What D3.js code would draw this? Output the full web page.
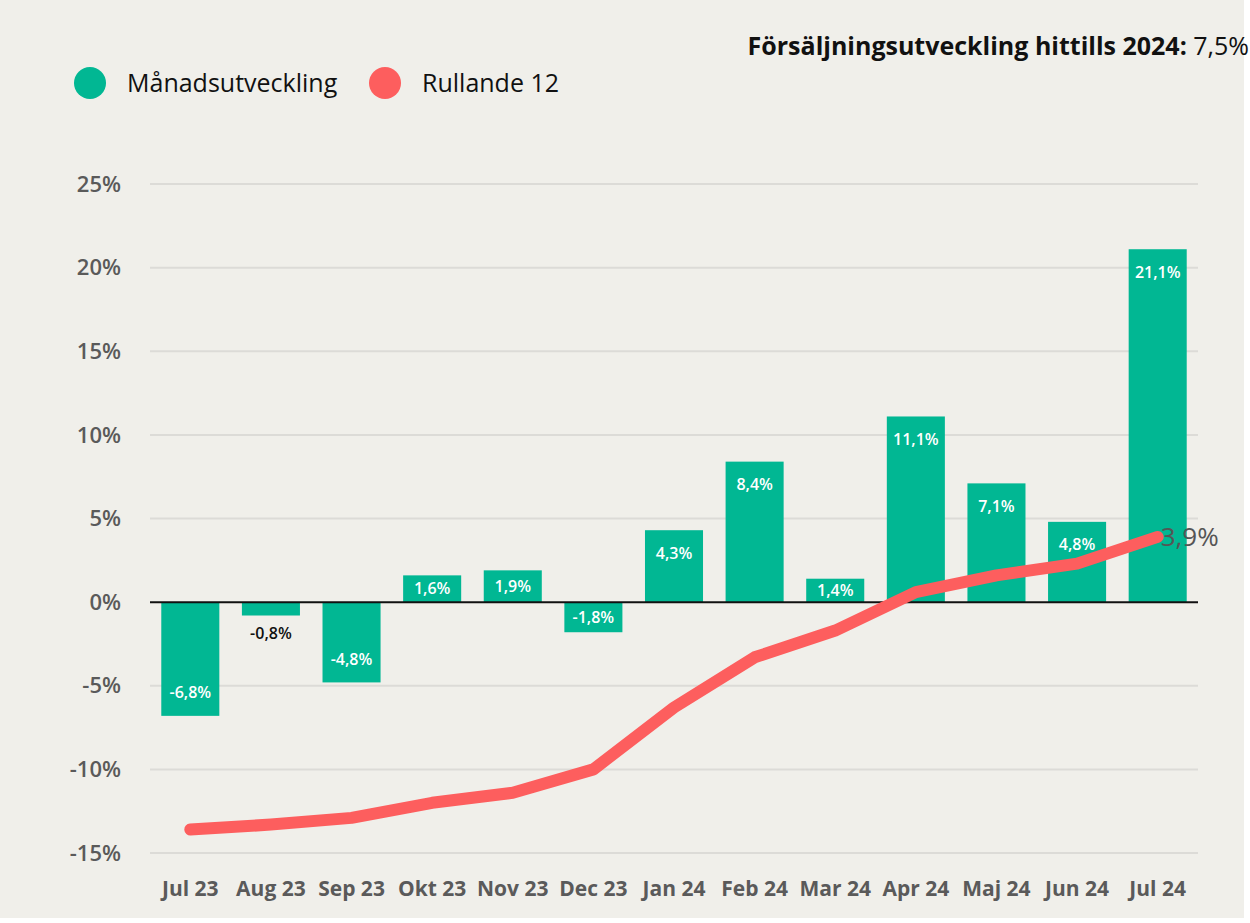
<!DOCTYPE html>
<html>
<head>
<meta charset="utf-8">
<script src="https://cdn.jsdelivr.net/npm/d3@7"></script>
<style>
  body { margin: 0; background: #fff; }
  svg { display: block; font-family: "Open Sans", "Noto Sans", sans-serif; }
</style>
</head>
<body>
<div id="chart"></div>
<script>
// data
const months = ["Jul 23","Aug 23","Sep 23","Okt 23","Nov 23","Dec 23","Jan 24","Feb 24","Mar 24","Apr 24","Maj 24","Jun 24","Jul 24"];
const monthly = [-6.8, -0.8, -4.8, 1.6, 1.9, -1.8, 4.3, 8.4, 1.4, 11.1, 7.1, 4.8, 21.1];
const rolling = [-13.6, -13.3, -12.9, -12.0, -11.4, -10.0, -6.3, -3.3, -1.7, 0.6, 1.6, 2.3, 3.9];
const yTicks = [-15, -10, -5, 0, 5, 10, 15, 20, 25];

const width = 1250, height = 923;
const margin = {top: 184, bottom: 70, left: 150, right: 52};
const green = "#01B793", red = "#FD5E5E", bg = "#F0EFEA";
const fmt = v => String(v.toFixed(1)).replace(".", ",") + "%";

const svg = d3.select("#chart").append("svg")
  .attr("width", width).attr("height", height);

svg.append("rect").attr("width", width - 6).attr("height", height - 5).attr("fill", bg);

const x = d3.scaleBand().domain(months)
  .range([margin.left, width - margin.right])
  .paddingInner(0.28).paddingOuter(0.14);
const y = d3.scaleLinear().domain([-15, 25])
  .range([height - margin.bottom, margin.top]);

// grid
svg.append("g").selectAll("line").data(yTicks.filter(d => d !== 0)).join("line")
  .attr("x1", margin.left).attr("x2", width - margin.right)
  .attr("y1", d => y(d)).attr("y2", d => y(d))
  .attr("stroke", "#DCDBD7").attr("stroke-width", 2);

// y axis labels
svg.append("g").selectAll("text").data(yTicks).join("text")
  .attr("x", 121).attr("y", d => y(d)).attr("dy", "0.35em")
  .attr("text-anchor", "end").attr("font-size", 22).attr("font-weight", 600)
  .attr("fill", "#5A5A5A").text(d => d + "%");

// x axis labels
svg.append("g").selectAll("text").data(months).join("text")
  .attr("x", d => x(d) + x.bandwidth() / 2).attr("y", 896)
  .attr("text-anchor", "middle").attr("font-size", 21).attr("font-weight", 700)
  .attr("fill", "#5A5A5A").text(d => d);

// bars
const data = months.map((m, i) => ({m, v: monthly[i], r: rolling[i]}));
svg.append("g").selectAll("rect").data(data).join("rect")
  .attr("x", d => x(d.m)).attr("width", x.bandwidth())
  .attr("y", d => y(Math.max(0, d.v)))
  .attr("height", d => Math.abs(y(d.v) - y(0)))
  .attr("fill", green);

// zero line
svg.append("line")
  .attr("x1", margin.left).attr("x2", width - margin.right)
  .attr("y1", y(0)).attr("y2", y(0))
  .attr("stroke", "#111").attr("stroke-width", 2);

// bar labels: inside the bar, below it when the bar is too short
const barH = d => Math.abs(y(d.v) - y(0));
const labelY = d => {
  const mid = (y(d.v) + y(0)) / 2;
  if (barH(d) < 18) return y(d.v) + 18;
  if (d.v >= 0) return Math.min(y(d.v) + 23, mid);
  return Math.max(y(d.v) - 23, mid);
};
svg.append("g").selectAll("text").data(data).join("text")
  .attr("x", d => x(d.m) + x.bandwidth() / 2)
  .attr("y", labelY)
  .attr("dy", "0.35em").attr("text-anchor", "middle")
  .attr("font-size", 16).attr("font-weight", 600)
  .attr("fill", d => barH(d) < 18 ? "#111" : "#fff")
  .text(d => fmt(d.v));

// rolling line
const line = d3.line().x(d => x(d.m) + x.bandwidth() / 2).y(d => y(d.r));
svg.append("path").datum(data).attr("d", line)
  .attr("fill", "none").attr("stroke", red).attr("stroke-width", 12)
  .attr("stroke-linecap", "round").attr("stroke-linejoin", "round");

const last = data[data.length - 1];
svg.append("text")
  .attr("x", x(last.m) + x.bandwidth() / 2 + 3).attr("y", y(last.r))
  .attr("dy", "0.35em").attr("font-size", 26).attr("fill", "#555")
  .text(fmt(last.r));

// title
const title = svg.append("text").attr("x", 1249).attr("y", 55)
  .attr("text-anchor", "end").attr("font-size", 25).attr("fill", "#111");
title.append("tspan").attr("font-weight", 700).text("Försäljningsutveckling hittills 2024: ");
title.append("tspan").text("7,5%");

// legend
const legend = [{name: "Månadsutveckling", c: green, x: 90}, {name: "Rullande 12", c: red, x: 385}];
const lg = svg.append("g").selectAll("g").data(legend).join("g")
  .attr("transform", d => `translate(${d.x},83)`);
lg.append("circle").attr("r", 16).attr("fill", d => d.c);
lg.append("text").attr("x", 37).attr("dy", "0.35em")
  .attr("font-size", 25).attr("fill", "#111").text(d => d.name);
</script>
</body>
</html>
